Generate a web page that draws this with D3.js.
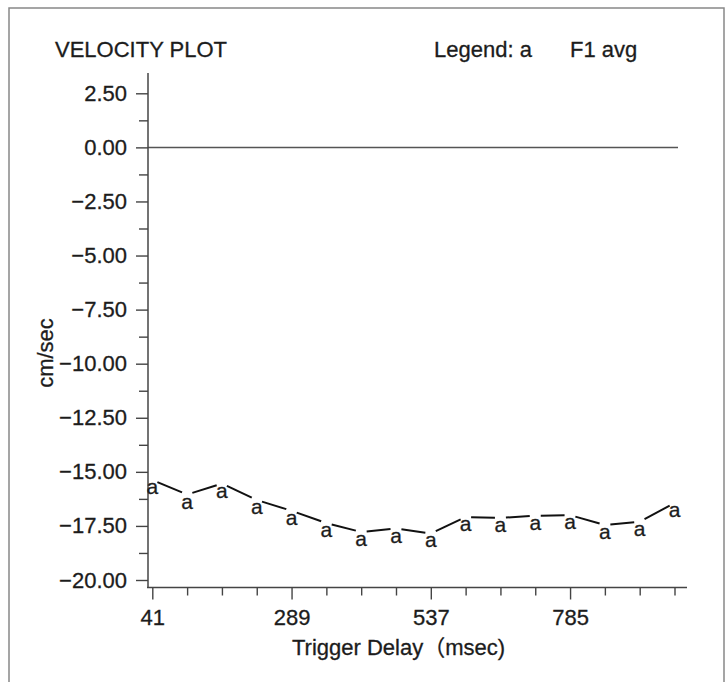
<!DOCTYPE html>
<html>
<head>
<meta charset="utf-8">
<script src="https://cdn.jsdelivr.net/npm/d3@7"></script>
<style>
  body { margin: 0; background: #fff; }
  text { font-family: "Liberation Sans", Arial, Helvetica, sans-serif; fill: #1c1c1c; stroke: #1c1c1c; stroke-width: 0.3px; }
</style>
</head>
<body>
<svg id="chart" width="728" height="682"></svg>
<script>
/////////////////////////////////////////////////////////
// VELOCITY PLOT - F1 AVG
/////////////////////////////////////////////////////////

// DATA
var delays = [41, 103, 165, 227, 289, 351, 413, 475, 537, 599, 661, 723, 785, 847, 909, 971];
var velocity = [-15.38, -16.05, -15.54, -16.30, -16.80, -17.37, -17.78, -17.62,
                -17.85, -17.09, -17.13, -17.03, -17.00, -17.46, -17.31, -16.44];
var xLabelTicks = [41, 289, 537, 785];
var yLabelTicks = [2.5, 0, -2.5, -5, -7.5, -10, -12.5, -15, -17.5, -20];
var yMinorTicks = [1.25, -1.25, -3.75, -6.25, -8.75, -11.25, -13.75, -16.25, -18.75];
var symbolChar = 'a';

// GLOBAL VARIABLES
var svg = d3.select('#chart');
var fmt = d3.format('.2f');

// SCALES
var xScale = d3.scaleLinear().domain([41, 971]).range([152.3, 674.5]);
var yScale = d3.scaleLinear().domain([2.5, -20]).range([93.3, 580]);
var axisLeftX = 148;
var axisBottomY = 587.5;

// FRAME (page border from the scan)
svg.append('path')
  .attr('d', 'M9,682V8H724V682')
  .attr('fill', 'none')
  .attr('stroke', '#888')
  .attr('stroke-width', 1.5);

// ZERO LINE
svg.append('line')
  .attr('x1', axisLeftX)
  .attr('x2', 678)
  .attr('y1', yScale(0))
  .attr('y2', yScale(0))
  .attr('stroke', '#555')
  .attr('stroke-width', 1.5);

// Y AXIS
var yAxisG = svg.append('g')
  .attr('transform', 'translate(' + axisLeftX + ',0)');

yAxisG.append('g')
  .call(d3.axisLeft(yScale).tickValues(yMinorTicks).tickSize(9).tickFormat(''))
  .call(g => g.select('.domain').remove());

yAxisG.append('g')
  .call(d3.axisLeft(yScale).tickValues(yLabelTicks).tickSize(12).tickPadding(9)
    .tickFormat(d => fmt(d).replace('-', '\u2013')))
  .call(g => g.select('.domain').remove());

yAxisG.append('line')
  .attr('x1', 0).attr('x2', 0)
  .attr('y1', yScale(3.44))
  .attr('y2', axisBottomY)
  .attr('stroke', '#444')
  .attr('stroke-width', 1.5);

// X AXIS
var xAxisG = svg.append('g')
  .attr('transform', 'translate(0,' + axisBottomY + ')');

xAxisG.append('g')
  .call(d3.axisBottom(xScale).tickValues(delays.filter(d => xLabelTicks.indexOf(d) < 0))
    .tickSize(8).tickFormat(''))
  .call(g => g.select('.domain').remove());

xAxisG.append('g')
  .call(d3.axisBottom(xScale).tickValues(xLabelTicks).tickSize(12).tickPadding(10)
    .tickFormat(d3.format('d')))
  .call(g => g.select('.domain').remove());

xAxisG.append('line')
  .attr('x1', axisLeftX - 1)
  .attr('x2', 687)
  .attr('stroke', '#444')
  .attr('stroke-width', 1.5);

svg.selectAll('.tick line').attr('stroke', '#444').attr('stroke-width', 1.4);
svg.selectAll('.tick text')
  .style('font-size', '22px')
  .style('font-family', '"Liberation Sans", Arial, sans-serif')
  .attr('fill', '#1c1c1c');

// DATA LINE - segments stop short of each symbol
var points = delays.map((d, i) => [xScale(d), yScale(velocity[i])]);
var gap = 5.5;
var segs = d3.pairs(points).map(function(p) {
  var dx = p[1][0] - p[0][0], dy = p[1][1] - p[0][1];
  var len = Math.sqrt(dx * dx + dy * dy);
  var ux = dx / len, uy = dy / len;
  return [[p[0][0] + ux * gap, p[0][1] + uy * gap], [p[1][0] - ux * gap, p[1][1] - uy * gap]];
});

svg.append('g').selectAll('line')
  .data(segs)
  .enter().append('line')
  .attr('x1', d => d[0][0])
  .attr('y1', d => d[0][1])
  .attr('x2', d => d[1][0])
  .attr('y2', d => d[1][1])
  .attr('stroke', '#111')
  .attr('stroke-width', 2);

// SYMBOLS
svg.append('g').selectAll('text')
  .data(points)
  .enter().append('text')
  .attr('x', d => d[0])
  .attr('y', d => d[1] + 14)
  .attr('text-anchor', 'middle')
  .style('font-size', '21px')
  .text(symbolChar);

/////////////////////////////////////////////////////////
//                   LABELS
/////////////////////////////////////////////////////////

svg.append('text')
  .attr('x', 55)
  .attr('y', 57)
  .style('font-size', '22px')
  .text('VELOCITY PLOT');

svg.append('text')
  .attr('x', 434)
  .attr('y', 57)
  .style('font-size', '22px')
  .text('Legend: a');

svg.append('text')
  .attr('x', 570)
  .attr('y', 57)
  .style('font-size', '22px')
  .text('F1 avg');

svg.append('text')
  .attr('transform', 'translate(53,353) rotate(-90)')
  .attr('text-anchor', 'middle')
  .style('font-size', '22px')
  .text('cm/sec');

svg.append('text')
  .attr('x', 292)
  .attr('y', 655)
  .style('font-size', '22px')
  .html('Trigger Delay<tspan style="font-family: \'Noto Sans CJK JP\'">\uFF08</tspan>msec)');
</script>
</body>
</html>
